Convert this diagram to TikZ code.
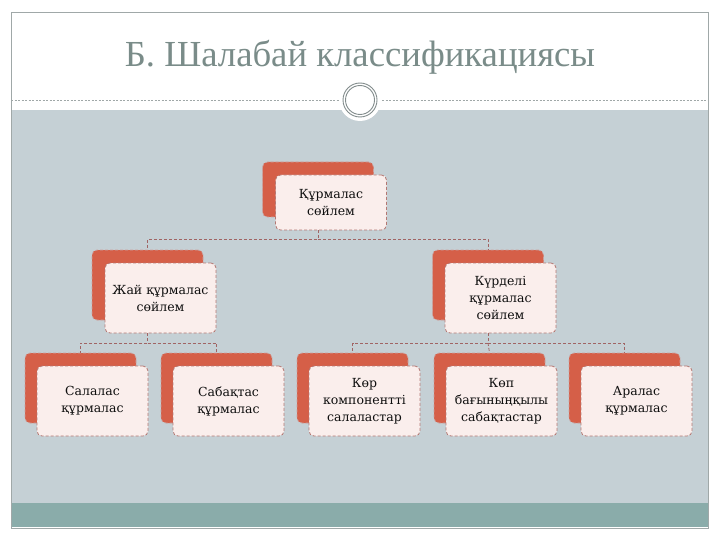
\documentclass[tikz,border=0pt]{standalone}
\usepackage{fontspec}
\setmainfont{Liberation Serif}
\newfontfamily\boxfont{DejaVu Serif}
\usetikzlibrary{calc}
\definecolor{redbk}{RGB}{213,95,72}
\definecolor{frontfill}{RGB}{250,238,236}
\definecolor{boxedge}{RGB}{180,120,115}
\definecolor{connc}{RGB}{160,100,100}
\definecolor{graybg}{RGB}{197,208,213}
\definecolor{tealband}{RGB}{138,172,170}
\definecolor{framec}{RGB}{160,168,168}
\definecolor{titlec}{RGB}{122,140,137}
\definecolor{ringc}{RGB}{130,140,140}
\definecolor{txtc}{RGB}{15,15,15}
\tikzset{
  backbox/.style={draw=boxedge!70!white, fill=redbk, line width=0.7pt, dash pattern=on 3pt off 2pt, rounded corners=5pt, minimum width=111pt, minimum height=70pt, inner sep=0pt},
  frontbox/.style={draw=boxedge, fill=frontfill, line width=0.8pt, dash pattern=on 3pt off 2pt, rounded corners=5pt, minimum width=111pt, minimum height=70pt, inner sep=0pt, align=center, text=txtc, font=\boxfont\fontsize{12.5}{17}\selectfont},
  conn/.style={draw=connc, line width=0.8pt, dash pattern=on 3pt off 2pt}
}
\begin{document}
\begin{tikzpicture}[x=1pt,y=-1pt]
\useasboundingbox (0,0) rectangle (720,540);
\fill[white] (0,0) rectangle (720,540);
% background panels
\fill[graybg] (11,110) rectangle (708,503);
\fill[tealband] (11,503) rectangle (708,527);
\draw[framec, line width=0.8pt] (11,12) rectangle (708,528);
\draw[framec, line width=0.6pt, dash pattern=on 2pt off 1.5pt] (11,100) -- (708,100);
% circle ornament
\fill[white] (360,100) circle (21);
\draw[ringc, line width=0.9pt] (360,100) circle (17);
\draw[ringc, line width=0.9pt] (360,100) circle (14.5);
% title
\node[text=titlec, font=\fontsize{36.7}{40}\selectfont] (title) at (360,57) {Б. Шалабай классификациясы};
% boxes
\node[backbox, minimum height=55pt] (tb) at (318,189.5) {};
\node[frontbox, minimum height=55pt] (t) at (331,202.5) {Құрмалас\\сөйлем};
\node[backbox] (jb) at (147.5,285) {};
\node[frontbox] (j) at (160.5,298) {Жай құрмалас\\сөйлем};
\node[backbox] (kb) at (488,285) {};
\node[frontbox] (k) at (500.5,298) {Күрделі\\құрмалас\\сөйлем};
\node[backbox] (sb) at (80.5,388) {};
\node[frontbox] (s) at (92.5,401) {Салалас\\құрмалас};
\node[backbox] (ab) at (216.5,388) {};
\node[frontbox] (a) at (228.5,401) {Сабақтас\\құрмалас};
\node[backbox] (eb) at (352.5,388) {};
\node[frontbox] (e) at (364.5,401) {Көр\\компонентті\\салаластар};
\node[backbox] (pb) at (489.5,388) {};
\node[frontbox] (p) at (501.5,401) {Көп\\бағыныңқылы\\сабақтастар};
\node[backbox] (rb) at (624.5,388) {};
\node[frontbox] (r) at (636.5,401) {Аралас\\құрмалас};
% connectors
\coordinate (h1) at (0,239);
\coordinate (h2) at (0,343);
\draw[conn] (tb.center |- t.south) -- (tb.center |- h1) -| (jb.north);
\draw[conn] (tb.center |- h1) -| (kb.north);
\draw[conn] (jb.center |- j.south) -- (jb.center |- h2) -| (sb.north);
\draw[conn] (jb.center |- h2) -| (ab.north);
\draw[conn] (kb.center |- k.south) -- (kb.center |- h2) -| (eb.north);
\draw[conn] (kb.center |- h2) -- (pb.north);
\draw[conn] (kb.center |- h2) -| (rb.north);
\end{tikzpicture}
\end{document}
